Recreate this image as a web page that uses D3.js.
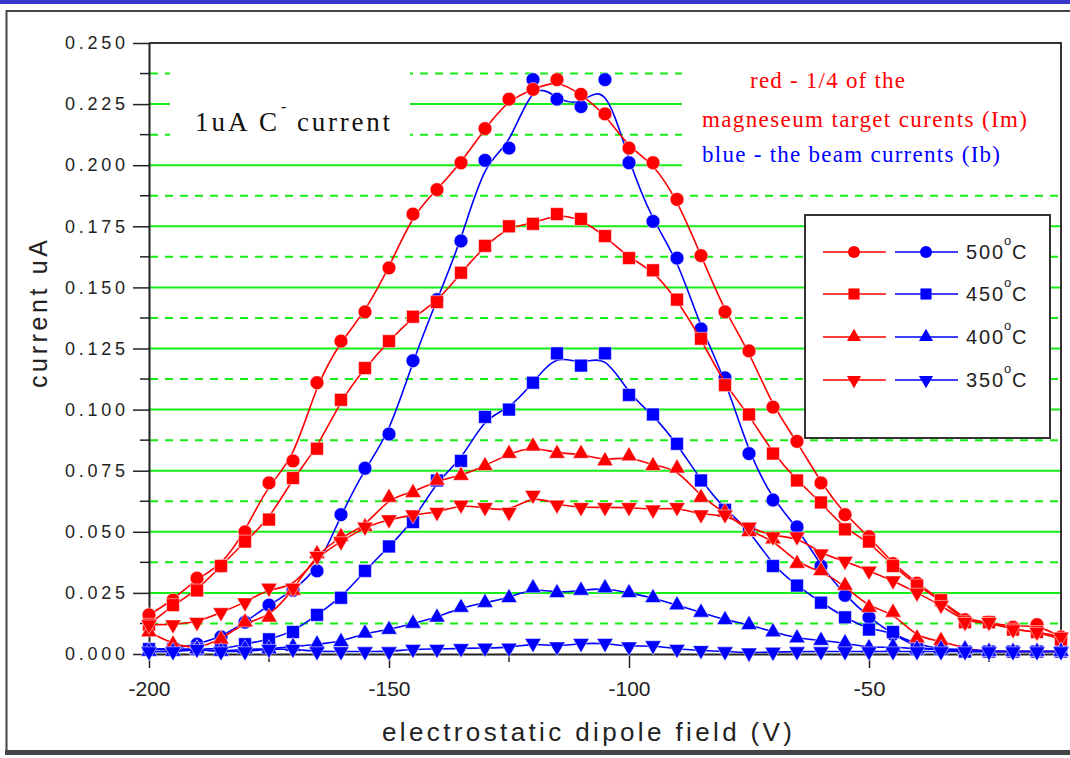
<!DOCTYPE html>
<html><head><meta charset="utf-8">
<script src="https://cdn.jsdelivr.net/npm/d3@7"></script>
<style>body{margin:0;background:#fff;} svg{display:block;}</style>
</head><body>
<svg id="c" width="1070" height="758"></svg>
<script>
// ---------- data ----------
const voltages = [-200,-195,-190,-185,-180,-175,-170,-165,-160,-155,-150,-145,-140,-135,-130,-125,-120,-115,-110,-105,-100,-95,-90,-85,-80,-75,-70,-65,-60,-55,-50,-45,-40,-35,-30,-25,-20,-15,-10];

// red: 1/4 of the magnesium target currents (Im)
const red500 = [0.016,0.022,0.031,0.036,0.050,0.070,0.079,0.111,0.128,0.140,0.158,0.180,0.190,0.201,0.215,0.227,0.231,0.235,0.229,0.221,0.207,0.201,0.186,0.163,0.140,0.124,0.101,0.087,0.070,0.057,0.048,0.037,0.029,0.022,0.014,0.013,0.011,0.012,0.007];
const red450 = [0.012,0.020,0.026,0.036,0.046,0.055,0.072,0.084,0.104,0.117,0.128,0.138,0.144,0.156,0.167,0.175,0.176,0.180,0.178,0.171,0.162,0.157,0.145,0.129,0.110,0.098,0.082,0.071,0.062,0.051,0.046,0.036,0.028,0.022,0.013,0.013,0.010,0.009,0.006];
const red400 = [0.009,0.004,0.002,0.006,0.013,0.015,0.026,0.041,0.048,0.052,0.064,0.066,0.071,0.073,0.077,0.082,0.085,0.082,0.082,0.079,0.081,0.077,0.076,0.064,0.058,0.050,0.047,0.037,0.034,0.028,0.019,0.017,0.0065,0.0055,0.002,0.001,0.001,0.001,0.001];
const red350 = [0.012,0.012,0.013,0.017,0.021,0.027,0.027,0.040,0.046,0.052,0.055,0.057,0.058,0.061,0.060,0.058,0.065,0.061,0.060,0.060,0.060,0.059,0.060,0.057,0.057,0.052,0.048,0.048,0.041,0.038,0.034,0.030,0.025,0.020,0.013,0.013,0.010,0.009,0.007];
// blue: the beam currents (Ib)
const blue500 = [0.002,0.002,0.004,0.007,0.013,0.020,0.026,0.034,0.057,0.076,0.090,0.120,0.145,0.169,0.202,0.207,0.235,0.227,0.224,0.235,0.201,0.177,0.162,0.133,0.113,0.082,0.063,0.052,0.036,0.024,0.015,0.008,0.004,0.002,0.001,0.001,0.001,0.001,0.001];
const blue450 = [0.002,0.002,0.002,0.002,0.004,0.006,0.009,0.016,0.023,0.034,0.044,0.054,0.071,0.079,0.097,0.100,0.111,0.123,0.118,0.123,0.106,0.098,0.086,0.071,0.059,0.051,0.036,0.028,0.021,0.015,0.010,0.009,0.002,0.002,0.001,0.001,0.001,0.001,0.001];
const blue400 = [0.001,0.001,0.002,0.001,0.002,0.002,0.003,0.004,0.005,0.0085,0.010,0.0125,0.015,0.019,0.021,0.023,0.027,0.025,0.026,0.027,0.025,0.023,0.020,0.017,0.014,0.012,0.009,0.0065,0.0055,0.0045,0.0025,0.003,0.002,0.002,0.002,0.001,0.001,0.001,0.001];
const blue350 = [0.001,0.001,0.002,0.001,0.001,0.002,0.002,0.001,0.001,0.001,0.001,0.002,0.002,0.0023,0.0025,0.0025,0.0044,0.003,0.0044,0.0044,0.003,0.0035,0.002,0.0015,0.001,0.0005,0.0008,0.001,0.001,0.001,0.001,0.001,0.001,0.001,0.001,0.001,0.001,0.001,0.001];

const temperatures = ["500","450","400","350"];
const yMajorTicks = [0,0.025,0.05,0.075,0.1,0.125,0.15,0.175,0.2,0.225,0.25];
const yTickLabels = ["0.000","0.025","0.050","0.075","0.100","0.125","0.150","0.175","0.200","0.225","0.250"];
const yMinorTicks = [0.0125,0.0375,0.0625,0.0875,0.1125,0.1375,0.1625,0.1875,0.2125,0.2375];
const xMajorTicks = [-200,-150,-100,-50];
const xTickLabels = ["-200","-150","-100","-50"];
const xMinorTicks = [-175,-125,-75,-25];

// ---------- setup ----------
const svg = d3.select("#c");
const L = 149, R = 1061, T = 43, B = 654;
const x = d3.scaleLinear().domain([-200,-10]).range([L,R]);
const y = d3.scaleLinear().domain([0,0.25]).range([B,T]);
const GREEN = "#14ee14", RED = "#ff0000", BLUE = "#0000ff", INK = "#222";

// outer frame
svg.append("rect").attr("x",0).attr("y",0).attr("width",1070).attr("height",4).attr("fill","#3838c8");
svg.append("path").attr("d","M1070,11 H6.5 V751").attr("fill","none").attr("stroke","#444").attr("stroke-width",2);
svg.append("rect").attr("x",5).attr("y",750).attr("width",1065).attr("height",5).attr("fill","#444");

// grid
svg.append("g").selectAll("line").data(yMajorTicks.filter(v=>v>0 && v<0.25)).join("line")
  .attr("x1",L).attr("x2",R).attr("y1",d=>y(d)).attr("y2",d=>y(d))
  .attr("stroke",GREEN).attr("stroke-width",2);
svg.append("g").selectAll("line").data(yMinorTicks).join("line")
  .attr("x1",L+1).attr("x2",R).attr("y1",d=>y(d)).attr("y2",d=>y(d))
  .attr("stroke",GREEN).attr("stroke-width",2).attr("stroke-dasharray","8,7");

// white boxes behind annotations
svg.append("rect").attr("x",170).attr("y",62).attr("width",240).attr("height",88).attr("fill","#fff");
svg.append("rect").attr("x",682).attr("y",52).attr("width",378).attr("height",128).attr("fill","#fff");

// frame top/right
svg.append("path").attr("d",`M${L},${T} H${R} V${B}`).attr("fill","none").attr("stroke","#333").attr("stroke-width",2);

// axes
const yAxis = svg.append("g").attr("transform",`translate(${L},0)`)
  .call(d3.axisLeft(y).tickValues(yMajorTicks).tickSize(16).tickSizeOuter(0).tickPadding(8)
        .tickFormat((d,i)=>yTickLabels[i]));
yAxis.select(".domain").attr("stroke",INK).attr("stroke-width",2);
yAxis.selectAll(".tick line").attr("stroke",INK).attr("stroke-width",1.5);
yAxis.selectAll(".tick text").attr("font-family","Liberation Sans, Arial, sans-serif").attr("font-size",18)
  .attr("fill",INK).attr("textLength",60).attr("lengthAdjust","spacing");
svg.append("g").selectAll("line").data(yMinorTicks).join("line")
  .attr("x1",L-9).attr("x2",L).attr("y1",d=>y(d)).attr("y2",d=>y(d)).attr("stroke",INK).attr("stroke-width",1.5);

const xAxis = svg.append("g").attr("transform",`translate(0,${B})`)
  .call(d3.axisBottom(x).tickValues(xMajorTicks).tickSize(14).tickSizeOuter(0)
        .tickFormat((d,i)=>xTickLabels[i]));
xAxis.select(".domain").attr("stroke",INK).attr("stroke-width",2);
xAxis.selectAll(".tick line").attr("stroke",INK).attr("stroke-width",1.5);
xAxis.selectAll(".tick text").attr("font-family","Liberation Sans, Arial, sans-serif").attr("font-size",21)
  .attr("fill",INK).attr("y",42).attr("dy",0).attr("textLength",(d,i)=>xTickLabels[i].length===4?42:32).attr("lengthAdjust","spacingAndGlyphs");
svg.append("g").selectAll("line").data(xMinorTicks).join("line")
  .attr("x1",d=>x(d)).attr("x2",d=>x(d)).attr("y1",B).attr("y2",B+8).attr("stroke",INK).attr("stroke-width",1.5);

// axis titles
svg.append("text").attr("transform","translate(47,314) rotate(-90)").attr("text-anchor","middle")
  .attr("font-family","Liberation Sans, Arial, sans-serif").attr("font-size",25).attr("fill",INK)
  .attr("textLength",148).attr("lengthAdjust","spacing").text("current uA");
svg.append("text").attr("x",382).attr("y",741)
  .attr("font-family","Liberation Sans, Arial, sans-serif").attr("font-size",26).attr("fill",INK)
  .attr("textLength",410).attr("lengthAdjust","spacing").text("electrostatic dipole field (V)");

// series
const series = [
  {v:blue500, c:BLUE, s:"circle"},
  {v:red500,  c:RED,  s:"circle"},
  {v:blue450, c:BLUE, s:"square"},
  {v:red450,  c:RED,  s:"square"},
  {v:red400,  c:RED,  s:"up"},
  {v:red350,  c:RED,  s:"down"},
  {v:blue400, c:BLUE, s:"up"},
  {v:blue350, c:BLUE, s:"down"}
];
function symPath(kind, scale){
  const k = scale||1;
  if(kind==="circle") return d3.symbol(d3.symbolCircle, 150*k)();
  if(kind==="square") return d3.symbol(d3.symbolSquare, 165*k)();
  return d3.symbol(d3.symbolTriangle, 115*k)();
}
const line = d3.line().curve(d3.curveBasis).x(d=>x(d[0])).y(d=>y(d[1]));
const gData = svg.append("g");
series.forEach(s=>{
  const pts = voltages.map((v,i)=>[v,s.v[i]]);
  gData.append("path").datum(pts).attr("d",line).attr("fill","none").attr("stroke",s.c).attr("stroke-width",1.6);
  gData.append("g").selectAll("path").data(pts).join("path")
    .attr("d",symPath(s.s))
    .attr("transform",d=>`translate(${x(d[0])},${y(d[1])})${s.s==="down"?" rotate(180)":""}`)
    .attr("fill",s.c).attr("stroke","#fff").attr("stroke-width",0.5);
});

// annotations
const serif = "Liberation Serif, Times New Roman, serif";
svg.append("text").attr("x",195).attr("y",131).attr("font-family",serif).attr("font-size",27).attr("fill","#111")
  .attr("textLength",82).attr("lengthAdjust","spacing").text("1uA C");
svg.append("text").attr("x",281).attr("y",112).attr("font-family",serif).attr("font-size",16).attr("fill","#111").text("-");
svg.append("text").attr("x",297).attr("y",131).attr("font-family",serif).attr("font-size",27).attr("fill","#111")
  .attr("textLength",93).attr("lengthAdjust","spacing").text("current");

svg.append("text").attr("x",750).attr("y",88).attr("font-family",serif).attr("font-size",23).attr("fill",RED)
  .attr("textLength",155).attr("lengthAdjust","spacing").text("red - 1/4 of the");
svg.append("text").attr("x",702).attr("y",127).attr("font-family",serif).attr("font-size",23).attr("fill",RED)
  .attr("textLength",325).attr("lengthAdjust","spacing").text("magneseum target curents (Im)");
svg.append("text").attr("x",702).attr("y",162).attr("font-family",serif).attr("font-size",23).attr("fill",BLUE)
  .attr("textLength",298).attr("lengthAdjust","spacing").text("blue - the beam currents (Ib)");

// legend
svg.append("rect").attr("x",805).attr("y",215).attr("width",245).attr("height",223)
  .attr("fill","#fff").attr("stroke","#333").attr("stroke-width",2);
const legKinds = ["circle","square","up","down"];
const legBase = [259,301,344,387];
temperatures.forEach((t,i)=>{
  const my = legBase[i]-7;
  [[823,886,854,RED],[895,958,926,BLUE]].forEach(([a,b,m,c])=>{
    svg.append("line").attr("x1",a).attr("x2",b).attr("y1",my).attr("y2",my).attr("stroke",c).attr("stroke-width",1.6);
    svg.append("path").attr("d",symPath(legKinds[i],0.75))
      .attr("transform",`translate(${m},${my})${legKinds[i]==="down"?" rotate(180)":""}`).attr("fill",c);
  });
  svg.append("text").attr("x",966).attr("y",legBase[i]).attr("font-family","Liberation Sans, Arial, sans-serif")
    .attr("font-size",20).attr("fill",INK).attr("textLength",37).attr("lengthAdjust","spacing").text(t);
  svg.append("text").attr("x",1004).attr("y",legBase[i]-14).attr("font-family","Liberation Sans, Arial, sans-serif")
    .attr("font-size",13).attr("fill",INK).text("o");
  svg.append("text").attr("x",1012).attr("y",legBase[i]).attr("font-family","Liberation Sans, Arial, sans-serif")
    .attr("font-size",20).attr("fill",INK).text("C");
});
</script>
</body></html>
